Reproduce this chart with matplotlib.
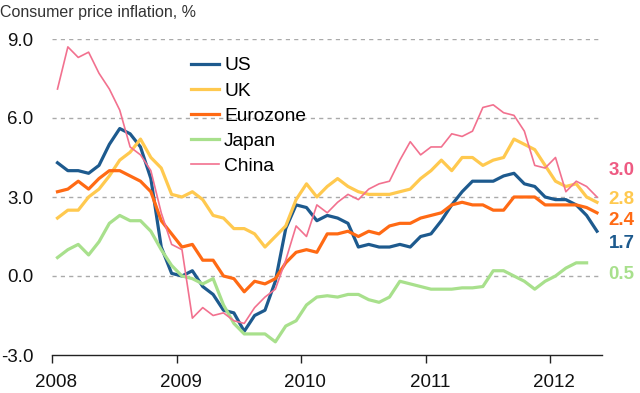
import numpy as np
import matplotlib
matplotlib.use('Agg')
from matplotlib import pyplot as plt
from matplotlib import transforms

plt.rcParams['font.family'] = ['Liberation Sans', 'DejaVu Sans']

# monthly CPI, % y/y, Jan 2008 onwards
us = [4.3, 4.0, 4.0, 3.9, 4.2, 5.0, 5.6, 5.4, 4.9, 3.7, 1.1, 0.1,
      0.0, 0.2, -0.4, -0.7, -1.3, -1.4, -2.1, -1.5, -1.3, -0.2, 1.8, 2.7,
      2.6, 2.1, 2.3, 2.2, 2.0, 1.1, 1.2, 1.1, 1.1, 1.2, 1.1, 1.5,
      1.6, 2.1, 2.7, 3.2, 3.6, 3.6, 3.6, 3.8, 3.9, 3.5, 3.4, 3.0,
      2.9, 2.9, 2.7, 2.3, 1.7]
uk = [2.2, 2.5, 2.5, 3.0, 3.3, 3.8, 4.4, 4.7, 5.2, 4.5, 4.1, 3.1,
      3.0, 3.2, 2.9, 2.3, 2.2, 1.8, 1.8, 1.6, 1.1, 1.5, 1.9, 2.9,
      3.5, 3.0, 3.4, 3.7, 3.4, 3.2, 3.1, 3.1, 3.1, 3.2, 3.3, 3.7,
      4.0, 4.4, 4.0, 4.5, 4.5, 4.2, 4.4, 4.5, 5.2, 5.0, 4.8, 4.2,
      3.6, 3.4, 3.5, 3.0, 2.8]
eurozone = [3.2, 3.3, 3.6, 3.3, 3.7, 4.0, 4.0, 3.8, 3.6, 3.2, 2.1, 1.6,
            1.1, 1.2, 0.6, 0.6, 0.0, -0.1, -0.6, -0.2, -0.3, -0.1, 0.5, 0.9,
            1.0, 0.9, 1.6, 1.6, 1.7, 1.5, 1.7, 1.6, 1.9, 2.0, 2.0, 2.2,
            2.3, 2.4, 2.7, 2.8, 2.7, 2.7, 2.5, 2.5, 3.0, 3.0, 3.0, 2.7,
            2.7, 2.7, 2.7, 2.6, 2.4]
japan = [0.7, 1.0, 1.2, 0.8, 1.3, 2.0, 2.3, 2.1, 2.1, 1.7, 1.0, 0.4,
         0.0, -0.1, -0.3, -0.1, -1.1, -1.8, -2.2, -2.2, -2.2, -2.5, -1.9, -1.7,
         -1.1, -0.8, -0.75, -0.8, -0.7, -0.7, -0.9, -1.0, -0.8, -0.2, -0.3, -0.4,
         -0.5, -0.5, -0.5, -0.45, -0.45, -0.4, 0.2, 0.2, 0.0, -0.2, -0.5, -0.2,
         0.0, 0.3, 0.5, 0.5]
china = [7.1, 8.7, 8.3, 8.5, 7.7, 7.1, 6.3, 4.9, 4.6, 4.0, 2.4, 1.2,
         1.0, -1.6, -1.2, -1.5, -1.4, -1.7, -1.8, -1.2, -0.8, -0.5, 0.6, 1.9,
         1.5, 2.7, 2.4, 2.8, 3.1, 2.9, 3.3, 3.5, 3.6, 4.4, 5.1, 4.6,
         4.9, 4.9, 5.4, 5.3, 5.5, 6.4, 6.5, 6.2, 6.1, 5.5, 4.2, 4.1,
         4.5, 3.2, 3.6, 3.4, 3.0]

names = ['US', 'UK', 'Eurozone', 'Japan', 'China']
series = [us, uk, eurozone, japan, china]
colors = ['#1d5a8e', '#ffc94f', '#ff6a14', '#a8e08c', '#f2718f']
widths = [2.3, 2.3, 2.3, 2.3, 1.2]
label_colors = ['#1d5a8e', '#ffc94f', '#ff6a14', '#a8e08c', '#ee5a82']
label_y = [1.25, 2.9, 2.1, 0.05, 4.0]  # y position of end labels (data units)

years = [2008, 2009, 2010, 2011, 2012]
yticks = [-3.0, 0.0, 3.0, 6.0, 9.0]

fig = plt.figure(figsize=(6.4, 3.93), dpi=100)
ax = fig.add_axes([52.3 / 640, 1 - 355 / 393, (601.7 - 52.3) / 640, (355 - 39) / 393])

for name, s, c, w in zip(names, series, colors, widths):
    x = 2008 + (np.arange(len(s)) + 0.5) / 12
    ax.plot(x, s, color=c, lw=w, label=name, clip_on=False, solid_joinstyle='round')

ax.set_xlim(2008, 2008 + 549.4 / 124.5)
ax.set_ylim(-3, 9)
ax.set_yticks(yticks)
ax.set_yticklabels(['%.1f' % v for v in yticks])
ax.set_xticks(years)
ax.set_xticklabels([str(y) for y in years])
for v in yticks[1:]:
    ax.axhline(v, color='#aaaaaa', lw=1, ls=(0, (3, 3)), zorder=0)

for sp in ['top', 'right', 'left']:
    ax.spines[sp].set_visible(False)
ax.spines['bottom'].set_color('#222222')
ax.spines['bottom'].set_linewidth(1)
ax.tick_params(axis='y', length=0, pad=13.5, labelsize=13.5, labelcolor='#111111')
ax.tick_params(axis='x', length=6, width=1, color='#222222', pad=8, labelsize=13.5, labelcolor='#111111')
off = transforms.ScaledTranslation(4 / 100, 0, fig.dpi_scale_trans)
for lab in ax.get_xticklabels():
    lab.set_transform(lab.get_transform() + off)

# end-of-line value labels
for s, c, ly in zip(series, label_colors, label_y):
    ax.annotate('%.1f' % s[-1], xy=(1.0, ly), xycoords=('axes fraction', 'data'),
                xytext=(7, 0), textcoords='offset pixels', color=c,
                fontsize=13.5, fontweight='bold', va='center', ha='left',
                annotation_clip=False)

fig.text(0.0, 1 - 12 / 393, 'Consumer price inflation, %', fontsize=11.5,
         color='#333333', va='center', ha='left')

ax.legend(loc='upper left', bbox_to_anchor=(191 / 640, 1 - 57 / 393),
          bbox_transform=fig.transFigure, frameon=False, fontsize=13.8,
          handlelength=1.45, handletextpad=0.28, labelspacing=0.4,
          borderpad=0, borderaxespad=0)

fig.savefig('out.png', dpi=100)
